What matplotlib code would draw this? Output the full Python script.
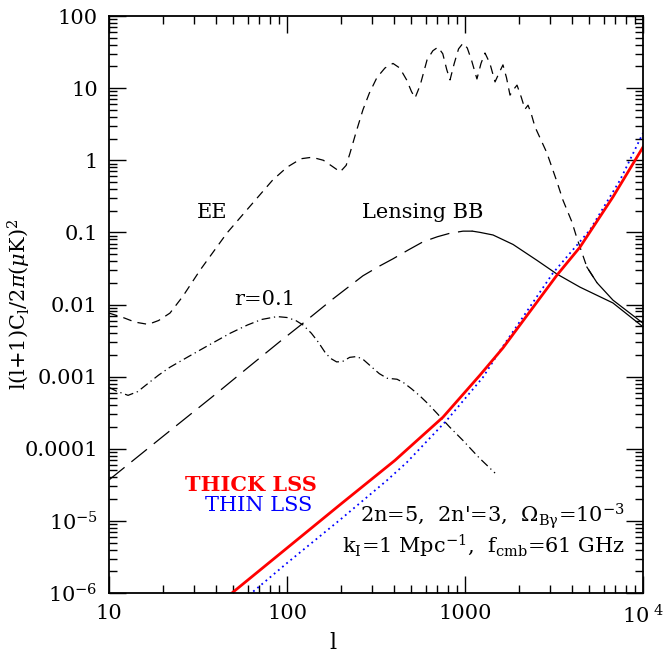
# ------------------------------
# CMB polarisation spectra vs magnetic field BB (THICK / THIN LSS)
# ------------------------------

import matplotlib
matplotlib.use("Agg")
import matplotlib.pyplot as plt
import numpy as np

plt.rcParams["font.family"] = ["DejaVu Serif"]
plt.rcParams["mathtext.fontset"] = "dejavuserif"

# ------------------------------
# Data
# ------------------------------

ee_l = [10, 12, 14, 16.6, 19, 22, 26, 32.5, 46, 60, 83, 100, 120, 138, 160,
        180, 199, 215, 226, 245, 267, 290, 320, 355, 394, 430, 470, 500, 524,
        560, 612, 660, 705, 750, 790, 824, 870, 920, 975, 1030, 1090, 1167,
        1230, 1295, 1380, 1475, 1550, 1634, 1710, 1790, 1870, 1960, 2070, 2172,
        2260, 2350, 2473, 2886, 3288, 3550, 3985, 4255, 4840, 5517, 6780, 10000]
ee_val = [0.0076, 0.0066, 0.0057, 0.0053, 0.0060, 0.0076, 0.013, 0.030, 0.098,
          0.21, 0.53, 0.8, 1.05, 1.1, 1.0, 0.82, 0.69, 0.85, 1.26, 2.5, 5.0,
          8.5, 14, 19, 22, 19, 13, 9, 7.3, 11, 24.6, 33, 37, 30, 18, 13, 22,
          35, 42, 36, 24, 13.4, 22, 30.7, 22, 12.2, 16, 21, 14, 8, 9.5, 11,
          7.5, 5.1, 5.8, 4.5, 2.9, 1.26, 0.5, 0.28, 0.14, 0.083, 0.033, 0.020,
          0.0115, 0.0055]

lens_l = [10, 20, 40, 60, 91, 123, 180, 267, 330, 394, 480, 581, 700, 820,
          975, 1100, 1214, 1437, 1862, 2535, 3288, 4427, 6780, 10000]
lens_val = [3.7e-5, 1.47e-4, 5.8e-4, 1.32e-3, 3.05e-3, 5.5e-3, 1.18e-2, 0.025,
            0.034, 0.043, 0.057, 0.074, 0.087, 0.097, 0.104, 0.104, 0.10,
            0.092, 0.068, 0.041, 0.0264, 0.0174, 0.0105, 0.0049]

r_l = [10, 11, 12.8, 14.5, 16.3, 19, 22, 28, 37, 48, 60, 72, 88, 100, 112,
       123, 137, 150, 163, 175, 190, 205, 225, 247, 270, 300, 330, 365, 415,
       450, 500, 558, 620, 696, 820, 975, 1200, 1475]
r_val = [7.1e-4, 6.3e-4, 5.5e-4, 6.2e-4, 7.8e-4, 1.05e-3, 1.35e-3, 1.9e-3,
         2.8e-3, 4.0e-3, 5.2e-3, 6.2e-3, 6.8e-3, 6.6e-3, 6.0e-3, 5.2e-3,
         4.0e-3, 3.0e-3, 2.2e-3, 1.8e-3, 1.6e-3, 1.62e-3, 1.85e-3, 1.9e-3,
         1.7e-3, 1.35e-3, 1.1e-3, 9.5e-4, 9.2e-4, 8.3e-4, 6.8e-4, 5.4e-4,
         4.2e-4, 3.1e-4, 2.0e-4, 1.3e-4, 7.5e-5, 4.6e-5]

thick_l = [45, 100, 200, 404, 752, 1214, 1634, 2300, 3288, 4427, 6780, 10000]
thick_val = [8.4e-7, 4.2e-6, 1.7e-5, 6.9e-5, 2.74e-4, 1.05e-3, 2.5e-3, 7.8e-3,
             0.0256, 0.0625, 0.31, 1.52]

thin_l = [55, 100, 200, 365, 472, 792, 1262, 1574, 2200, 3120, 5033, 7430, 10000]
thin_val = [7.5e-7, 2.6e-6, 1.05e-5, 3.66e-5, 6.5e-5, 2.5e-4, 9.8e-4, 2.3e-3,
            7.7e-3, 0.0273, 0.108, 0.53, 2.38]

xticks = [10, 100, 1000, 10000]
xtick_labels = ["10", "100", "1000", r"$10^{\ 4}$"]
yticks = [100, 10, 1, 0.1, 0.01, 0.001, 1e-4, 1e-5, 1e-6]
ytick_labels = ["100", "10", "1", "0.1", "0.01", "0.001", "0.0001",
                r"$10^{-5}$", r"$10^{-6}$"]

# ------------------------------
# Plot
# ------------------------------

fig = plt.figure(figsize=(6.65, 6.54), dpi=100)
ax = fig.add_axes([109 / 665, 1 - 593 / 654, 534 / 665, 577 / 654])

ee_l = np.array(ee_l)
ee_val = np.array(ee_val)
lens_l = np.array(lens_l)
lens_val = np.array(lens_val)

# EE: short dashes, turning solid in the far tail
cut = ee_l <= 5517
ax.plot(ee_l[cut], ee_val[cut], color="black", lw=0.9, dashes=(7, 5))
ax.plot(ee_l[ee_l >= 4840], ee_val[ee_l >= 4840], color="black", lw=0.9)

# lensing BB: long dashes, solid past the peak
cut = lens_l <= 1100
ax.plot(lens_l[cut], lens_val[cut], color="black", lw=0.9, dashes=(16, 7))
ax.plot(lens_l[lens_l >= 1100], lens_val[lens_l >= 1100], color="black", lw=0.9)

# r = 0.1 tensor BB
ax.plot(r_l, r_val, color="black", lw=0.9, dashes=(7, 3, 1, 3))

# magnetic field BB
ax.plot(thin_l, thin_val, color="blue", lw=1.3, linestyle=(0, (1, 2)))
ax.plot(thick_l, thick_val, color="red", lw=2.0)

ax.set_xscale("log")
ax.set_yscale("log")
ax.set_xlim(10, 1e4)
ax.set_ylim(1e-6, 100)

ax.set_xticks(xticks)
ax.set_xticklabels(xtick_labels)
ax.set_yticks(yticks)
ax.set_yticklabels(ytick_labels)

ax.tick_params(which="both", direction="in", top=True, right=True,
               labelsize=15, width=1.0)
ax.tick_params(which="major", length=12, pad=8)
ax.tick_params(which="minor", length=6)
for s in ax.spines.values():
    s.set_linewidth(1.3)

ax.set_xlabel("l", fontsize=16)
ax.xaxis.set_label_coords(0.42, -0.068)
ax.set_ylabel(r"l(l+1)C$_{\rm l}$/2$\pi$($\mu$K)$^2$", fontsize=15,
              va="center")
ax.yaxis.set_label_coords(-0.168, 0.5)

# ------------------------------
# Labels
# ------------------------------

ax.text(0.193, 0.660, "EE", transform=ax.transAxes, fontsize=15,
        ha="center", va="center")
ax.text(0.588, 0.660, "Lensing BB", transform=ax.transAxes, fontsize=15,
        ha="center", va="center")
ax.text(0.292, 0.508, "r=0.1", transform=ax.transAxes, fontsize=15,
        ha="center", va="center")
ax.text(0.390, 0.187, "THICK LSS", transform=ax.transAxes, fontsize=15,
        ha="right", va="center", color="red", fontweight="bold")
ax.text(0.380, 0.151, "THIN LSS", transform=ax.transAxes, fontsize=15,
        ha="right", va="center", color="blue")
ax.text(0.966, 0.133, r"2n=5,  2n'=3,  $\Omega_{\rm B\gamma}$=10$^{-3}$",
        transform=ax.transAxes, fontsize=15, ha="right", va="center")
ax.text(0.966, 0.080, r"k$_{\rm I}$=1 Mpc$^{-1}$,  f$_{\rm cmb}$=61 GHz",
        transform=ax.transAxes, fontsize=15, ha="right", va="center")

fig.savefig("out.png", dpi=100)
